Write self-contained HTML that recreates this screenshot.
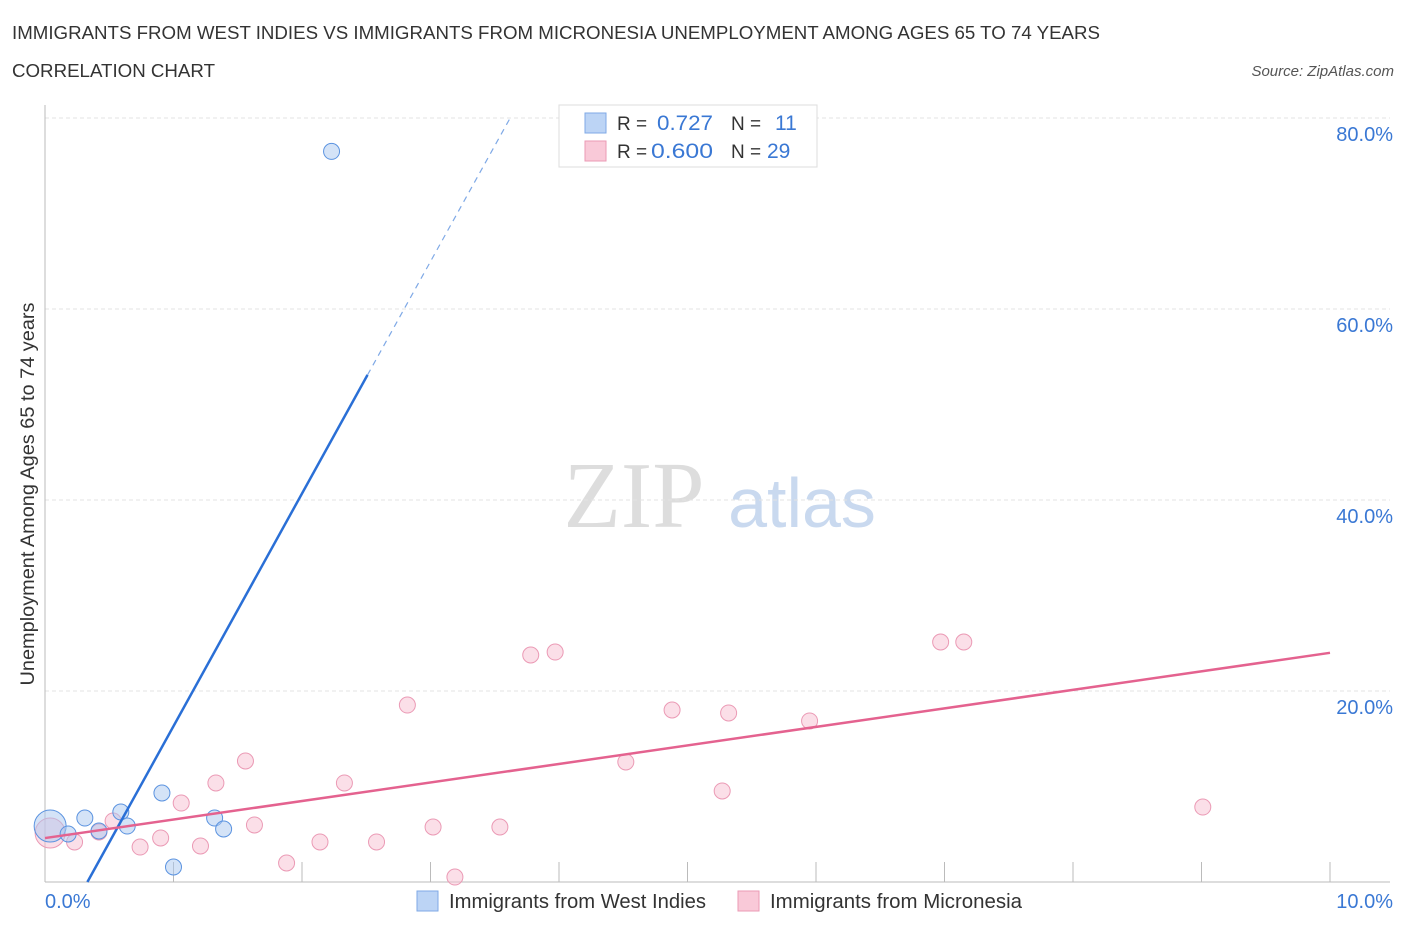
<!DOCTYPE html>
<html><head><meta charset="utf-8">
<style>
body{margin:0;background:#fff;width:1406px;height:930px;overflow:hidden;font-family:"Liberation Sans",sans-serif;}
svg{position:absolute;left:0;top:0}
</style></head>
<body>
<svg id="chart" width="1406" height="930">
<text x="12" y="39" font-size="18.5" fill="#333" textLength="1088" lengthAdjust="spacingAndGlyphs">IMMIGRANTS FROM WEST INDIES VS IMMIGRANTS FROM MICRONESIA UNEMPLOYMENT AMONG AGES 65 TO 74 YEARS</text>
<text x="12" y="77" font-size="18.5" fill="#333" textLength="203" lengthAdjust="spacingAndGlyphs">CORRELATION CHART</text>
<text x="1394" y="76" font-size="15" fill="#555" font-style="italic" text-anchor="end">Source: ZipAtlas.com</text>
<text x="634" y="527" font-size="94" fill="#ddd" font-family="Liberation Serif,serif" text-anchor="middle">ZIP</text>
<text x="802" y="527" font-size="70" fill="#c9d9ef" text-anchor="middle">atlas</text>
<g id="grid"></g>
<g id="marks"></g>
<text transform="translate(34,494) rotate(-90)" font-size="19" fill="#333" text-anchor="middle" textLength="383" lengthAdjust="spacingAndGlyphs">Unemployment Among Ages 65 to 74 years</text>
<text x="45" y="908" font-size="20" fill="#3a78d4">0.0%</text>
<text x="1393" y="908" font-size="20" fill="#3a78d4" text-anchor="end">10.0%</text>
<g>
<rect x="559" y="105" width="258" height="62" fill="#fff" stroke="#ddd"/>
<rect x="585" y="113" width="21" height="20" fill="#bcd4f5" stroke="#7fa9e6"/>
<rect x="585" y="141" width="21" height="20" fill="#f9c9d8" stroke="#eb9ab5"/>
<text x="617" y="130" font-size="19" fill="#333">R = </text><text x="657" y="130" font-size="21" fill="#3a78d4" textLength="56" lengthAdjust="spacingAndGlyphs">0.727</text>
<text x="731" y="130" font-size="19" fill="#333">N = </text><text x="775" y="130" font-size="21" fill="#3a78d4">11</text>
<text x="617" y="158" font-size="19" fill="#333">R = </text><text x="651" y="158" font-size="21" fill="#3a78d4" textLength="62" lengthAdjust="spacingAndGlyphs">0.600</text>
<text x="731" y="158" font-size="19" fill="#333">N = </text><text x="767" y="158" font-size="21" fill="#3a78d4">29</text>
</g>
<g>
<rect x="417" y="891" width="21" height="20" fill="#bcd4f5" stroke="#7fa9e6"/>
<text x="449" y="908" font-size="20" fill="#333" textLength="257" lengthAdjust="spacingAndGlyphs">Immigrants from West Indies</text></g>
<g>
<rect x="738" y="891" width="21" height="20" fill="#f9c9d8" stroke="#eb9ab5"/>
<text x="770" y="908" font-size="20" fill="#333" textLength="252" lengthAdjust="spacingAndGlyphs">Immigrants from Micronesia</text></g>
</svg>
<script>
const yTicks=[20,40,60,80];
const xTicks=[0,1,2,3,4,5,6,7,8,9,10];
const blueX=[0.04,0.18,0.31,0.42,0.59,0.64,0.91,1.00,1.32,1.39,2.23];
const blueY=[5.86,5.03,6.70,5.34,7.33,5.86,9.32,1.57,6.70,5.55,76.5];
const pinkX=[0.04,0.23,0.42,0.53,0.74,0.90,1.06,1.21,1.33,1.56,1.63,1.88,2.14,2.33,2.58,2.82,3.02,3.19,3.54,3.78,3.97,4.52,4.88,5.27,5.32,5.95,6.97,7.15,9.01];
const pinkY=[5.13,4.19,5.24,6.39,3.66,4.61,8.27,3.77,10.37,12.67,5.97,1.99,4.19,10.37,4.19,18.53,5.76,0.52,5.76,23.77,24.08,12.57,18.01,9.53,17.70,16.86,25.13,25.13,7.85];
const blueLine=[[0.33,0],[2.51,53.1],[3.62,80]];
const pinkLine=[[0,4.6],[10,24.0]];
const NS='http://www.w3.org/2000/svg';
const X=v=>45+v*128.5, Y=v=>882-v*9.55;
function mk(t,a,p){const e=document.createElementNS(NS,t);for(const k in a)e.setAttribute(k,a[k]);p.appendChild(e);return e;}
const grid=document.getElementById('grid'),marks=document.getElementById('marks');
yTicks.forEach(v=>{
 const l=mk('line',{x1:45,x2:1390,y1:Y(v),y2:Y(v),stroke:'#e3e3e3','stroke-dasharray':'4,3'},grid);
 
 
 const t=mk('text',{x:1393,y:Y(v)+23,'font-size':20,fill:'#3a78d4','text-anchor':'end'},grid);t.textContent=v.toFixed(1)+'%';
 
 
});
mk('line',{x1:45,x2:45,y1:105,y2:882,stroke:'#bbb'},grid);
mk('line',{x1:45,x2:1390,y1:882,y2:882,stroke:'#bbb'},grid);
xTicks.forEach(v=>{const l=mk('line',{x1:X(v),x2:X(v),y1:862,y2:882,stroke:'#bbb'},grid);
 
 });
pinkX.forEach((x,i)=>{const c=mk('circle',{cx:X(x),cy:Y(pinkY[i]),r:i==0?15:8,fill:'#f7bfd1','fill-opacity':0.5,stroke:'#eb9ab5'},marks);
 
 });
blueX.forEach((x,i)=>{const c=mk('circle',{cx:X(x),cy:Y(blueY[i]),r:i==0?16:8,fill:'#a9c8f0','fill-opacity':0.5,stroke:'#5b93e0'},marks);
 
 });
const b1=mk('line',{x1:X(blueLine[0][0]),y1:Y(blueLine[0][1]),x2:X(blueLine[1][0]),y2:Y(blueLine[1][1]),stroke:'#2a6fd6','stroke-width':2.5},marks);


const b2=mk('line',{x1:X(blueLine[1][0]),y1:Y(blueLine[1][1]),x2:X(blueLine[2][0]),y2:Y(blueLine[2][1]),stroke:'#7fa9e6','stroke-width':1.2,'stroke-dasharray':'6,5'},marks);


const p1=mk('line',{x1:X(pinkLine[0][0]),y1:Y(pinkLine[0][1]),x2:X(pinkLine[1][0]),y2:Y(pinkLine[1][1]),stroke:'#e4628f','stroke-width':2.5},marks);


</script>
</body></html>
